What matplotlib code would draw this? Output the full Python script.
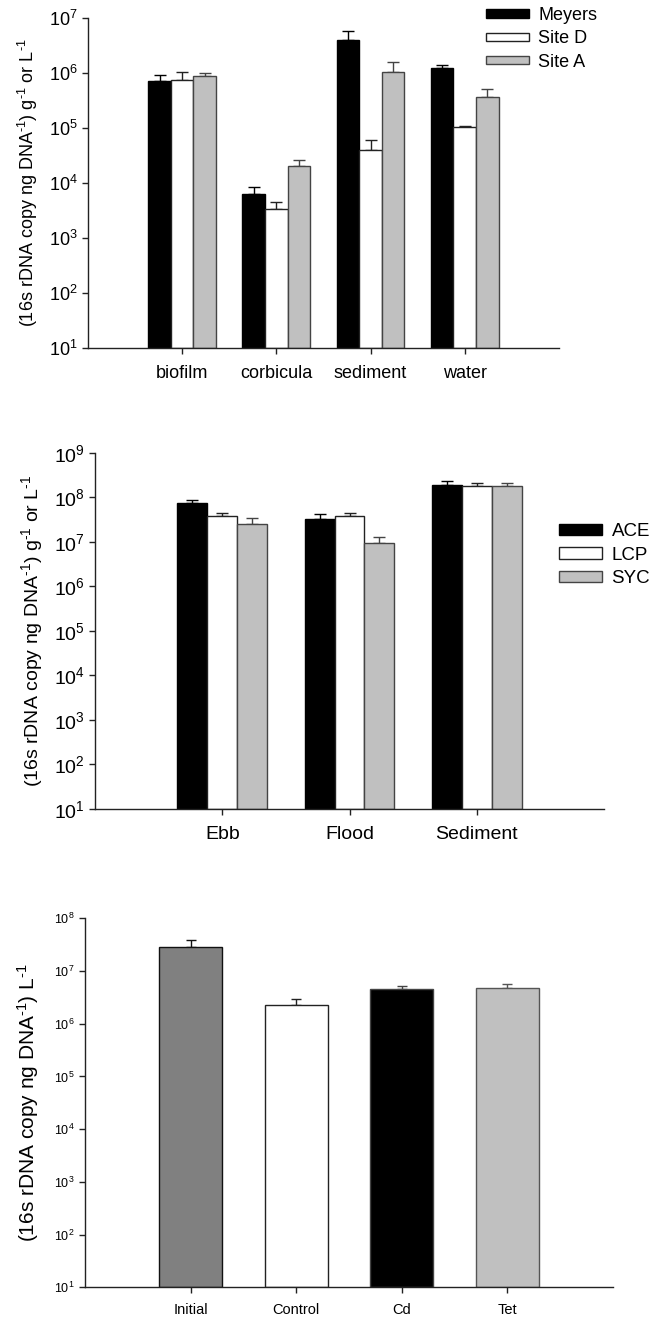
import numpy as np
import matplotlib
matplotlib.use('Agg')
import matplotlib.pyplot as plt
from matplotlib.ticker import LogLocator, NullLocator

params = {
    'font.family': 'sans-serif',
    'font.sans-serif': ['Liberation Sans', 'DejaVu Sans'],
    'mathtext.fontset': 'custom',
    'mathtext.rm': 'Liberation Sans',
    'mathtext.it': 'Liberation Sans:italic',
    'mathtext.bf': 'Liberation Sans:bold',
    'axes.linewidth': 1.0,
    'axes.edgecolor': '#222222',
}
plt.rcParams.update(params)

# panel A: sites
sites_cats = ['biofilm', 'corbicula', 'sediment', 'water']
sites_names = ['Meyers', 'Site D', 'Site A']
meyers = [7.2e5, 6.4e3, 3.9e6, 1.23e6]
meyers_top = [9.1e5, 8.5e3, 5.9e6, 1.4e6]
site_d = [7.4e5, 3.4e3, 3.9e4, 1.02e5]
site_d_top = [1.02e6, 4.5e3, 6.0e4, 1.1e5]
site_a = [8.7e5, 2.0e4, 1.05e6, 3.7e5]
site_a_top = [9.8e5, 2.6e4, 1.6e6, 5.2e5]

# panel B: tide / sediment
tide_cats = ['Ebb', 'Flood', 'Sediment']
tide_names = ['ACE', 'LCP', 'SYC']
ace = [7.4e7, 3.3e7, 1.86e8]
ace_top = [8.9e7, 4.3e7, 2.27e8]
lcp = [3.8e7, 3.9e7, 1.83e8]
lcp_top = [4.4e7, 4.4e7, 2.05e8]
syc = [2.45e7, 9.4e6, 1.75e8]
syc_top = [3.5e7, 1.29e7, 2.05e8]

# panel C: treatments
treat_cats = ['Initial', 'Control', 'Cd', 'Tet']
treat_vals = [2.9e7, 2.3e6, 4.6e6, 4.8e6]
treat_top = [3.8e7, 2.9e6, 5.2e6, 5.6e6]

fills = ['black', 'white', '#c0c0c0']
edges = ['black', '#222222', '#444444']
treat_fills = ['#808080', 'white', 'black', '#c0c0c0']
treat_edges = ['#111111', '#222222', '#444444', '#555555']


def style_axis(ax, ymin, ymax, ncat, fs, xfs=None):
    ax.set_yscale('log')
    ax.set_ylim(ymin, ymax)
    ax.set_xlim(0, ncat + 1)
    ax.spines['top'].set_visible(False)
    ax.spines['right'].set_visible(False)
    ax.yaxis.set_major_locator(LogLocator(base=10, numticks=20))
    ax.yaxis.set_minor_locator(NullLocator())
    ax.tick_params(axis='both', direction='out', length=4, width=1,
                   labelsize=fs, colors='#222222', labelcolor='black')
    ax.tick_params(axis='x', pad=8, labelsize=xfs or fs)


def grouped(ax, cats, series, tops, names, width):
    x = np.arange(1, len(cats) + 1)
    n = len(series)
    for i in range(n):
        pos = x + (i - (n - 1) / 2) * width
        vals = np.array(series[i])
        err = np.array(tops[i]) - vals
        ax.bar(pos, vals, width, bottom=10, color=fills[i], edgecolor=edges[i],
               linewidth=1.0, label=names[i], zorder=2)
        ax.errorbar(pos, vals, yerr=[np.zeros_like(err), err], fmt='none',
                    ecolor=edges[i], elinewidth=1.0, capsize=width * 18,
                    capthick=1.0, zorder=1)
    ax.set_xticks(x)
    ax.set_xticklabels(cats)


fig = plt.figure(figsize=(6.58, 13.2), dpi=100)

ylab2 = r'(16s rDNA copy ng DNA$^{\text{-1}}$) g$^{\text{-1}}$ or L$^{\text{-1}}$'

ax1 = fig.add_axes([0.1337, 0.7364, 0.7158, 0.25])
style_axis(ax1, 10, 1e7, 4, 13)
grouped(ax1, sites_cats, [meyers, site_d, site_a],
        [meyers_top, site_d_top, site_a_top], sites_names, 0.24)
ax1.set_ylabel(ylab2, fontsize=13, labelpad=6)
fig.legend(*ax1.get_legend_handles_labels(), loc='upper left',
           bbox_to_anchor=(486 / 658, 1 - 7 / 1320), frameon=False,
           fontsize=13, handlelength=2.4, handleheight=0.35,
           labelspacing=0.35, handletextpad=0.5, borderpad=0, borderaxespad=0)

ax2 = fig.add_axes([0.1444, 0.3871, 0.7736, 0.2699])
style_axis(ax2, 10, 1e9, 3, 14)
grouped(ax2, tide_cats, [ace, lcp, syc], [ace_top, lcp_top, syc_top],
        tide_names, 0.235)
ax2.set_ylabel(ylab2, fontsize=14, labelpad=6)
fig.legend(*ax2.get_legend_handles_labels(), loc='upper left',
           bbox_to_anchor=(559 / 658, 1 - 523 / 1320), frameon=False,
           fontsize=13.5, handlelength=2.3, handleheight=0.55,
           labelspacing=0.35, handletextpad=0.5, borderpad=0, borderaxespad=0)

ax3 = fig.add_axes([0.1292, 0.0248, 0.8024, 0.2795])
style_axis(ax3, 10, 1e8, 4, 9, xfs=10.5)
x3 = np.arange(1, len(treat_cats) + 1)
for xi, v, t, fc, ec in zip(x3, treat_vals, treat_top, treat_fills, treat_edges):
    ax3.bar(xi, v, 0.6, bottom=10, color=fc, edgecolor=ec, linewidth=1.0, zorder=2)
    ax3.errorbar(xi, v, yerr=[[0], [t - v]], fmt='none', ecolor=ec,
                 elinewidth=1.0, capsize=3.6, capthick=1.0, zorder=1)
ax3.set_xticks(x3)
ax3.set_xticklabels(treat_cats)
ax3.tick_params(axis='x', pad=7)
ax3.set_ylabel(r'(16s rDNA copy ng DNA$^{\text{-1}}$) L$^{\text{-1}}$',
               fontsize=15, labelpad=9)

fig.savefig('out.png', dpi=100)
